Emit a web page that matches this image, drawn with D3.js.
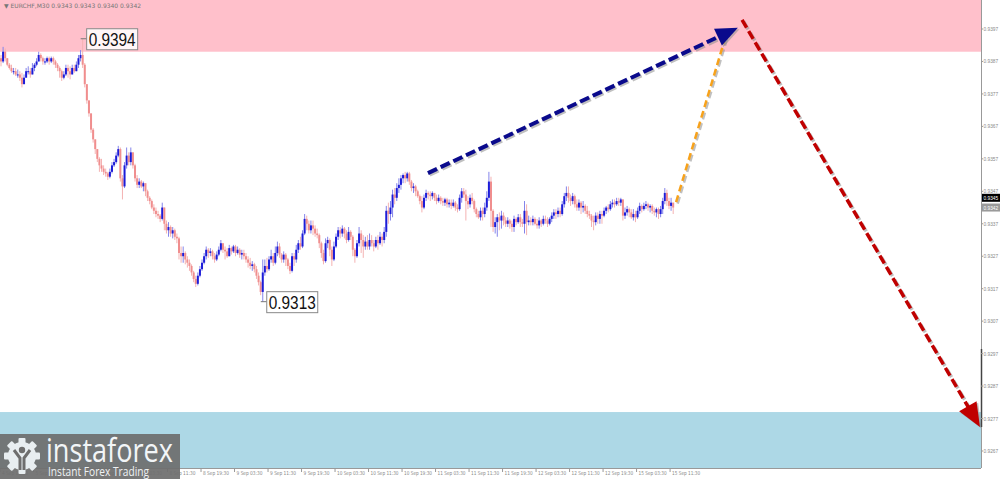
<!DOCTYPE html>
<html>
<head>
<meta charset="utf-8">
<script src="https://cdn.jsdelivr.net/npm/d3@7"></script>
<style>
  html, body { margin: 0; padding: 0; background: #fff; }
  svg { display: block; }
</style>
</head>
<body>
<div id="chart"></div>
<script>
// prices are stored as pips above the base (0.9300)
var base = 0.93;
var firstOpen = 88;

var closes = [
  87, 90, 88, 86, 85, 84, 84, 83, 83, 82, 80, 82, 84, 84, 83, 85,
  86, 87, 89, 88, 87, 87, 88, 87, 88, 87, 86, 85, 84, 82, 83, 85,
  84, 83, 85, 84, 86, 88, 89, 86, 80, 75, 71, 66, 63, 60, 57, 55,
  54, 53, 52.5, 51.5, 53, 55, 56, 58, 60, 51, 48.5, 55, 58, 56, 59, 55,
  51, 49, 50, 48.5, 49.5, 47, 45, 44, 42, 41, 40, 39.5, 38.5, 42, 37, 35,
  36, 34, 35, 33, 32.5, 28, 27, 28, 26, 25, 24, 22, 20, 18.5, 21, 23,
  25, 27, 29, 28, 28.5, 27, 26, 27.5, 29, 31, 29, 28.5, 27, 29.5, 28.5, 30,
  28, 29, 27.5, 28, 27, 26, 25, 24, 24.5, 23, 21, 19, 16, 22, 24, 23,
  26, 27, 25, 28, 30, 27.5, 26, 27.5, 26, 24, 22.5, 27, 26, 29, 31, 30,
  34, 38.5, 37, 35, 36.5, 35.5, 34, 33.5, 31, 28, 25.5, 31, 32, 29, 26, 30,
  33, 35, 34, 35.5, 34, 32, 34.5, 33, 29, 27, 31, 34, 32, 30, 31.5, 30,
  32, 31, 30, 32, 31, 33, 32, 34.5, 41, 40, 42, 46, 45, 48, 49, 51,
  52, 51, 52.5, 50, 48, 48.5, 47, 45.5, 44, 42, 45, 46.5, 46, 45.5, 46.5, 45,
  44, 45, 44, 43.5, 44.5, 43, 43.5, 42.5, 43.5, 42, 41.5, 45, 47, 46, 44, 43,
  45, 44, 41.5, 40, 39, 41, 40, 42, 45, 50, 41, 36, 37.5, 39, 38, 39.5,
  38, 37, 38, 37, 36, 38.5, 37.5, 39, 37.5, 37, 41, 37.5, 38, 37.5, 38.5, 37,
  36.5, 38, 37, 38.5, 38, 37, 38.5, 39.5, 40.5, 40, 41, 40, 43, 45.5, 46.5, 45,
  44, 45.5, 43, 42, 43.5, 42, 42.5, 41, 40, 39.5, 38, 37.5, 39.5, 38.5, 40, 39.5,
  41, 42, 41.5, 43, 43.5, 43, 44, 43.5, 44.5, 39.5, 40.5, 41.5, 40.5, 39, 40, 39,
  41, 42.5, 41.5, 42.5, 43, 42, 42.5, 41, 40.5, 41.5, 40, 41.5, 44, 46.5, 44, 42.5,
  43.5, 42
];

var highs = [
  89, 91.5, 91, 88, 86.5, 86, 85, 85, 84.5, 84, 83.5, 83, 85, 85.5, 85, 86.5,
  86.5, 88, 90, 89.5, 88.5, 88, 88.5, 88.5, 88.5, 88.5, 87.5, 86.5, 85.5, 84.5, 84, 86,
  86, 85.5, 86, 86, 87, 89, 90.5, 94, 86.5, 78, 75, 71, 66.5, 63, 60, 57.5,
  57, 55, 54, 53, 54, 56, 57, 59, 61, 60.5, 52, 56, 60.5, 59, 60.5, 59,
  55.5, 52, 51, 50.5, 50, 49.5, 47.5, 45.5, 44.5, 43, 42, 41, 40, 43.5, 42, 38,
  37.5, 36.5, 36, 35.5, 34, 33, 30, 30, 28.5, 27, 26, 24.5, 22.5, 21, 22, 24,
  26, 28, 30, 29.5, 29.5, 29, 28, 28.5, 30, 32, 31, 30, 29.5, 30.5, 30, 30.5,
  30.5, 30, 29.5, 29, 29, 28, 27, 26.5, 25.5, 25, 24, 22, 19.5, 26, 26, 26.5,
  27, 29, 28, 30, 31.5, 31, 28, 28.5, 28, 26.5, 25, 28, 28, 30.5, 32, 33,
  35, 40, 39.5, 38, 38, 38, 36.5, 35.5, 34, 31.5, 29, 32.5, 33, 32.5, 30, 31.5,
  34, 36, 36, 36.5, 36, 35, 36, 35, 33.5, 29.5, 32, 36, 35, 33.5, 33, 33.5,
  34, 33.5, 32, 33, 33.5, 34.5, 34, 36, 42.5, 43.5, 44, 47.5, 48, 49.5, 51, 52,
  52.5, 53, 53, 53, 50.5, 49.5, 49, 47.5, 46, 45.5, 46, 47.5, 47, 47, 47, 46.5,
  46, 46, 45.5, 45, 45, 45, 44.5, 44.5, 44.5, 44, 43, 46, 48, 48, 47.5, 45.5,
  46, 46.5, 44.5, 42, 41, 42, 42, 43.5, 47, 53, 51.5, 41.5, 39, 40, 40.5, 41,
  40.5, 39, 39, 38.5, 38, 39.5, 39, 40, 40, 38.5, 44, 43, 39.5, 39, 39.5, 39,
  38.5, 39, 38.5, 39.5, 39.5, 39, 39, 40.5, 41.5, 41.5, 42, 42, 44, 46.5, 48.5, 48.5,
  46, 46.5, 46, 44.5, 44.5, 44, 44, 43, 42.5, 41, 40, 39.5, 40.5, 40.5, 41, 41,
  42, 42.5, 43, 44, 44.5, 44.5, 45, 45, 45, 44.5, 42, 42.5, 42, 41.5, 41.5, 41,
  42, 43.5, 43, 43.5, 44, 43.5, 43, 43, 42, 42, 42, 42.5, 45, 48, 47.5, 45,
  45, 43.5
];

var lows = [
  85.5, 86.5, 87, 85.5, 84.5, 83.5, 83, 82.5, 82, 81, 79, 80, 82, 83, 82, 83,
  84, 85.5, 87, 87, 86, 86, 86.5, 86, 86.5, 86, 85, 84, 82, 81, 81.5, 82.5,
  82, 81.5, 83, 83.5, 84, 85, 87, 85, 79, 74, 70, 65, 62, 58.5, 56, 53,
  53, 52, 51.5, 50.5, 51, 52.5, 54.5, 55.5, 57.5, 50, 44.5, 48, 54, 55, 55, 54,
  50, 48, 48, 48, 47, 45.5, 44, 43, 41.5, 40, 39, 38.5, 37.5, 38, 35, 34,
  33, 33, 32.5, 32, 31, 26, 25, 25, 24.5, 23.5, 22.5, 21, 19, 17.5, 18, 20.5,
  22.5, 24.5, 26, 26.5, 27, 26, 25, 25.5, 27, 28.5, 28, 26, 26.5, 27, 27.5, 28,
  27, 27.5, 26.5, 26, 26, 25, 23.5, 23, 22.5, 22, 20, 18, 15, 13, 21, 22,
  22.5, 25, 24, 24.5, 27, 26.5, 25, 25, 24, 23, 21.5, 22, 24, 25, 28, 29,
  29.5, 33.5, 35, 34, 34, 33.5, 33, 32.5, 29.5, 26.5, 24.5, 25, 29.5, 27, 24, 25.5,
  29.5, 32, 32.5, 33, 32.5, 31, 31.5, 32, 27, 25, 26.5, 30, 28, 26.5, 29, 29,
  29, 30, 28.5, 29.5, 29, 30.5, 30, 31, 33, 37, 38, 39, 43, 44, 46.5, 47.5,
  49.5, 49.5, 50, 49, 47, 46.5, 45.5, 45, 43, 40.5, 41.5, 44, 44.5, 44, 44.5, 44,
  43, 43.5, 43, 42.5, 42.5, 42, 42, 41.5, 42, 41, 40.5, 41, 43.5, 45, 38, 41.5,
  42, 43, 40.5, 39, 38.5, 38, 38, 39, 41, 44, 36, 34.5, 34, 33, 35, 35.5,
  36.5, 36, 36, 35.5, 34.5, 34.5, 36.5, 37, 36, 36, 34, 33.5, 36.5, 36.5, 36.5, 36.5,
  35.5, 35.5, 36, 36.5, 37, 36, 36.5, 37.5, 38.5, 38.5, 39, 39, 39.5, 42, 44, 43.5,
  42.5, 43, 42, 41, 41, 40, 40.5, 40, 39, 38.5, 36, 35, 36.5, 37, 37, 37,
  39, 40, 40.5, 41, 42, 42, 42.5, 42.5, 42.5, 38, 38.5, 39.5, 39, 38.5, 38, 37.5,
  38.5, 40, 40.5, 41, 41.5, 41, 40.5, 40, 39.5, 39, 38.5, 39, 40, 43, 42.5, 41.5,
  41, 40
];

// time labels, one every 16 bars (8 hours of M30)
var timeLabels = [
  "4 Sep 19:30", "5 Sep 03:30", "5 Sep 11:30", "5 Sep 19:30", "8 Sep 03:30",
  "8 Sep 11:30", "8 Sep 19:30", "9 Sep 03:30", "9 Sep 11:30", "9 Sep 19:30",
  "10 Sep 03:30", "10 Sep 11:30", "10 Sep 19:30", "11 Sep 03:30", "11 Sep 11:30",
  "11 Sep 19:30", "12 Sep 03:30", "12 Sep 11:30", "12 Sep 19:30", "15 Sep 03:30",
  "15 Sep 11:30"
];
var priceTicks = [0.9397, 0.9387, 0.9377, 0.9367, 0.9357, 0.9347, 0.9337, 0.9327,
  0.9317, 0.9307, 0.9297, 0.9287, 0.9277, 0.9267];

// zones and forecast waves (bar index, price)
var resistance = [0.9390, 0.9400];
var support = [0.9261, 0.9279];
var waveUp = [[203.9, 0.93526], [351.9, 0.93974]];
var waveAlt = [[322.4, 0.93437], [346.7, 0.93961]];
var waveDown = [[353.9, 0.93998], [467.5, 0.92744]];
var extremes = [{i: 39, price: 0.9394, label: "0.9394"}, {i: 125, price: 0.9313, label: "0.9313"}];
var tags = [{price: 0.9345, fill: "#000"}, {price: 0.9342, fill: "#9a9a9a"}];

var width = 1000, height = 479,
    plotRight = 981, plotBottom = 468;

var svg = d3.select("#chart").append("svg")
  .attr("width", width)
  .attr("height", height)
  .style("font-family", "DejaVu Sans, sans-serif");

var x = d3.scaleLinear().domain([0, 468]).range([1, 1 + 468 * 2.094]);
var y = d3.scaleLinear().domain([0.9267, 0.9397]).range([451, 29]);

// build bars
var bars = closes.map(function(c, i) {
  var o = i === 0 ? firstOpen : closes[i - 1];
  return {
    i: i,
    o: base + o / 10000,
    c: base + c / 10000,
    h: base + Math.max(highs[i], o, c) / 10000,
    l: base + Math.min(lows[i], o, c) / 10000
  };
});

// zones
svg.append("rect")
  .attr("x", 0).attr("y", 0)
  .attr("width", plotRight).attr("height", y(resistance[0]))
  .attr("fill", "#ffc0cb");
svg.append("rect")
  .attr("x", 0).attr("y", y(support[1]))
  .attr("width", plotRight).attr("height", plotBottom - y(support[1]))
  .attr("fill", "#add8e6");

// header
svg.append("text")
  .attr("x", 4).attr("y", 8)
  .attr("font-size", 6).attr("fill", "#777")
  .text("\u25BC EURCHF,M30  0.9343 0.9343 0.9340 0.9342");

// candles
var g = svg.append("g");
g.selectAll("line.wick")
  .data(bars)
  .enter().append("line")
    .attr("class", "wick")
    .attr("x1", function(d) { return x(d.i); })
    .attr("x2", function(d) { return x(d.i); })
    .attr("y1", function(d) { return y(d.h); })
    .attr("y2", function(d) { return y(d.l); })
    .attr("stroke", function(d) { return d.c >= d.o ? "#8484ea" : "#f4b2b2"; })
    .attr("stroke-width", 1);
g.selectAll("rect.body")
  .data(bars)
  .enter().append("rect")
    .attr("class", "body")
    .attr("x", function(d) { return x(d.i) - 1; })
    .attr("width", 2)
    .attr("y", function(d) { return y(Math.max(d.o, d.c)); })
    .attr("height", function(d) { return Math.max(1, Math.abs(y(d.o) - y(d.c))); })
    .attr("fill", function(d) { return d.c >= d.o ? "#1c1cd8" : "#f08e8e"; });

// extreme labels
extremes.forEach(function(e) {
  var px = x(e.i), py = y(e.price);
  var bx = px + 4;
  svg.append("line")
    .attr("x1", px - 2).attr("x2", bx)
    .attr("y1", py).attr("y2", py)
    .attr("stroke", "#777").attr("stroke-width", 1);
  svg.append("rect")
    .attr("x", bx).attr("y", py - 10)
    .attr("width", 51).attr("height", 21)
    .attr("fill", "#fff").attr("fill-opacity", 0.85)
    .attr("stroke", "#888").attr("stroke-width", 1);
  svg.append("text")
    .attr("x", bx + 2).attr("y", py + 7)
    .attr("font-size", 18)
    .attr("font-family", "Liberation Sans, Arial, sans-serif")
    .attr("textLength", 47).attr("lengthAdjust", "spacingAndGlyphs")
    .attr("fill", "#111")
    .text(e.label);
});

// dashed wave arrows with shadow
function wave(pts, color, w, dash, head) {
  var x1 = x(pts[0][0]), y1 = y(pts[0][1]), x2 = x(pts[1][0]), y2 = y(pts[1][1]);
  var ang = Math.atan2(y2 - y1, x2 - x1);
  var ex = head ? x2 - Math.cos(ang) * head * 0.8 : x2,
      ey = head ? y2 - Math.sin(ang) * head * 0.8 : y2;
  [[1.6, "#8c8c8c", 0.55], [0, color, 1]].forEach(function(s) {
    svg.append("line")
      .attr("x1", x1 + s[0]).attr("y1", y1 + s[0])
      .attr("x2", ex + s[0]).attr("y2", ey + s[0])
      .attr("stroke", s[1]).attr("stroke-opacity", s[2])
      .attr("stroke-width", w)
      .attr("stroke-dasharray", dash);
    if (head) {
      var hw = head * 0.42;
      var bxp = x2 - Math.cos(ang) * head, byp = y2 - Math.sin(ang) * head;
      var p = [
        [x2, y2],
        [bxp + Math.sin(ang) * hw, byp - Math.cos(ang) * hw],
        [bxp - Math.sin(ang) * hw, byp + Math.cos(ang) * hw]
      ].map(function(q) { return [q[0] + s[0], q[1] + s[0]]; });
      svg.append("path")
        .attr("d", "M" + p.join("L") + "Z")
        .attr("fill", s[1]).attr("fill-opacity", s[2]);
    }
  });
}
wave(waveAlt, "#f7a21b", 2.5, "7,4", 0);
wave(waveUp, "#0a0a8c", 4, "10,4", 22);
wave(waveDown, "#c00000", 3.5, "9,4", 24);

// right price axis
svg.append("line")
  .attr("x1", plotRight + 0.5).attr("x2", plotRight + 0.5)
  .attr("y1", 0).attr("y2", plotBottom)
  .attr("stroke", "#999");
svg.append("line")
  .attr("x1", plotRight + 0.5).attr("x2", plotRight + 0.5)
  .attr("y1", 349).attr("y2", 427)
  .attr("stroke", "#444").attr("stroke-width", 1.5);
var ya = svg.append("g")
  .attr("font-family", "Liberation Sans, Arial, sans-serif")
  .attr("font-size", 4.8);
priceTicks.forEach(function(v) {
  ya.append("line")
    .attr("x1", plotRight).attr("x2", plotRight + 2)
    .attr("y1", y(v)).attr("y2", y(v))
    .attr("stroke", "#999");
  ya.append("text")
    .attr("x", plotRight + 2.5).attr("y", y(v) + 2)
    .attr("fill", "#888")
    .text(v.toFixed(4));
});
tags.forEach(function(t) {
  ya.append("rect")
    .attr("x", plotRight + 1).attr("y", y(t.price) - 4)
    .attr("width", 18).attr("height", 8)
    .attr("fill", t.fill);
  ya.append("text")
    .attr("x", plotRight + 2.5).attr("y", y(t.price) + 2)
    .attr("fill", "#fff")
    .text(t.price.toFixed(4));
});

// bottom time axis
svg.append("line")
  .attr("x1", 0).attr("x2", plotRight)
  .attr("y1", plotBottom + 0.5).attr("y2", plotBottom + 0.5)
  .attr("stroke", "#999");
timeLabels.forEach(function(t, k) {
  var tx = x(k * 16) - 1;
  svg.append("line")
    .attr("x1", tx).attr("x2", tx)
    .attr("y1", plotBottom).attr("y2", plotBottom + 4)
    .attr("stroke", "#999");
  svg.append("text")
    .attr("x", tx + 2).attr("y", plotBottom + 7)
    .attr("font-size", 5.5).attr("fill", "#888")
    .attr("textLength", t.length > 11 ? 28 : 26).attr("lengthAdjust", "spacingAndGlyphs")
    .text(t);
});

// watermark logo
var logo = svg.append("g");
logo.append("rect")
  .attr("x", 0).attr("y", 434)
  .attr("width", 180).attr("height", 45)
  .attr("fill", "#6e6e6e").attr("fill-opacity", 0.93);
var gear = logo.append("g").attr("transform", "translate(22,456)");
d3.range(8).forEach(function(k) {
  gear.append("rect")
    .attr("x", -3.5).attr("y", -18)
    .attr("width", 7).attr("height", 8)
    .attr("rx", 1)
    .attr("fill", "#e8eef1")
    .attr("transform", "rotate(" + (k * 45) + ")");
});
gear.append("circle").attr("r", 14).attr("fill", "#e8eef1");
gear.append("circle").attr("cy", -6).attr("r", 3.2).attr("fill", "#6e6e6e");
gear.append("path")
  .attr("d", "M-8,-6 L-2,2 L-2,14 M8,-6 L2,2 L2,14")
  .attr("fill", "none").attr("stroke", "#6e6e6e").attr("stroke-width", 3);
logo.append("text")
  .attr("x", 46).attr("y", 462)
  .attr("font-family", "Open Sans, sans-serif")
  .attr("font-size", 33).attr("fill", "#f2f5f7")
  .attr("textLength", 127).attr("lengthAdjust", "spacingAndGlyphs")
  .text("instaforex");
logo.append("text")
  .attr("x", 48).attr("y", 476)
  .attr("font-family", "Open Sans, sans-serif")
  .attr("font-size", 12.5).attr("fill", "#eef2f4")
  .attr("textLength", 101).attr("lengthAdjust", "spacingAndGlyphs")
  .text("Instant Forex Trading");
</script>
</body>
</html>
